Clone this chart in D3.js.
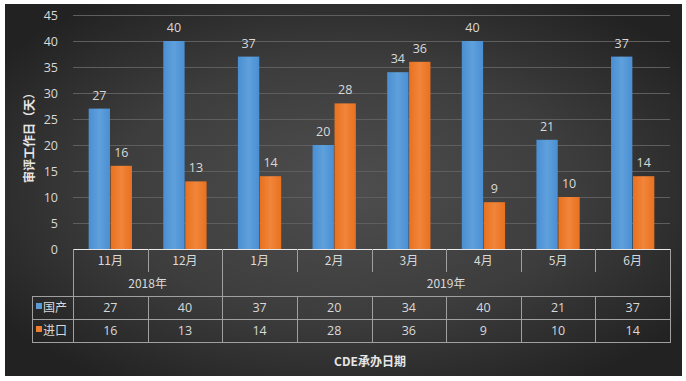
<!DOCTYPE html>
<html><head><meta charset="utf-8">
<script src="https://cdn.jsdelivr.net/npm/d3@7/dist/d3.min.js"></script>
<style>
html,body{margin:0;padding:0;background:#fff;}
svg{display:block;font-family:"Noto Sans CJK SC","Noto Sans",sans-serif;}
</style></head>
<body>
<script>
const months = ["11月","12月","1月","2月","3月","4月","5月","6月"];
const years = [{label:"2018年", from:0, to:2},{label:"2019年", from:2, to:8}];
const seriesNames = ["国产","进口"];
const domestic = [27,40,37,20,34,40,21,37];
const imported = [16,13,14,28,36,9,10,14];
const yTicks = [0,5,10,15,20,25,30,35,40,45];
const colors = ["#5b9bd5","#ed7d31"];
const xTitle = "CDE承办日期";
const yTitle = "审评工作日（天）";

(function(){
const W = 686, H = 381;
const svg = d3.select("body").append("svg").attr("width", W).attr("height", H);
const defs = svg.append("defs");
const rg = defs.append("radialGradient").attr("id","bg").attr("cx","0.5").attr("cy","0.5").attr("r","0.62");
rg.append("stop").attr("offset","0").attr("stop-color","#4e4e4e");
rg.append("stop").attr("offset","0.55").attr("stop-color","#3d3d3d");
rg.append("stop").attr("offset","1").attr("stop-color","#222222");
const bg = defs.append("linearGradient").attr("id","blueG").attr("x1",0).attr("x2",1);
bg.append("stop").attr("offset",0).attr("stop-color","#4a8fd3");
bg.append("stop").attr("offset",0.5).attr("stop-color","#5fa0dc");
bg.append("stop").attr("offset",1).attr("stop-color","#4a8fd3");
const og = defs.append("linearGradient").attr("id","orangeG").attr("x1",0).attr("x2",1);
og.append("stop").attr("offset",0).attr("stop-color","#e8711f");
og.append("stop").attr("offset",0.5).attr("stop-color","#f1853a");
og.append("stop").attr("offset",1).attr("stop-color","#e8711f");
const fills = ["url(#blueG)","url(#orangeG)"];

svg.append("rect").attr("x",5).attr("y",4).attr("width",677).attr("height",372).attr("fill","url(#bg)");

const pLeft = 73, pRight = 670, pTop = 15, pBottom = 249;
const x0 = d3.scaleBand().domain(months).range([pLeft,pRight]).paddingInner(0.42).paddingOuter(0.21);
const x1 = d3.scaleBand().domain(seriesNames).range([0,x0.bandwidth()]).paddingInner(0.03);
const y = d3.scaleLinear().domain([0,45]).range([pBottom,pTop]);
const step = x0.step();
const cellX = i => pLeft + i*step;

// gridlines
svg.append("g").selectAll("line").data(yTicks.filter(t=>t>0)).join("line")
  .attr("x1",pLeft).attr("x2",pRight).attr("y1",d=>Math.round(y(d))+0.5).attr("y2",d=>Math.round(y(d))+0.5)
  .attr("stroke","#5e5e5e").attr("stroke-width",1);

// y axis labels
const yAxis = d3.axisLeft(y).tickValues(yTicks).tickSize(0).tickPadding(0);
const ga = svg.append("g").attr("transform",`translate(58,0)`).call(yAxis);
ga.select(".domain").remove();
ga.selectAll("text").attr("fill","#d9d9d9").attr("font-size",12.5).style("font-family","'Open Sans','Noto Sans',sans-serif");

// y title
svg.append("text").attr("transform","translate(34,135) rotate(-90)").attr("text-anchor","middle")
  .attr("fill","#e6e6e6").attr("font-size",12).attr("font-weight","bold").text(yTitle);

// bars
const data = months.map((m,i)=>({m, vals:[domestic[i], imported[i]]}));
const groups = svg.append("g").selectAll("g").data(data).join("g")
  .attr("transform",d=>`translate(${x0(d.m)},0)`);
groups.selectAll("rect").data(d=>d.vals.map((v,k)=>({k,v}))).join("rect")
  .attr("x",d=>x1(seriesNames[d.k])).attr("width",x1.bandwidth())
  .attr("y",d=>y(d.v)).attr("height",d=>pBottom-y(d.v))
  .attr("fill",d=>fills[d.k]);
groups.selectAll("text").data(d=>d.vals.map((v,k)=>({k,v}))).join("text")
  .attr("x",d=>x1(seriesNames[d.k])+x1.bandwidth()/2).attr("y",d=>y(d.v)-9)
  .attr("text-anchor","middle").attr("fill","#d9d9d9").attr("font-size",12.5)
  .style("font-family","'Open Sans','Noto Sans',sans-serif").text(d=>d.v);

// table
const tbl = svg.append("g").attr("stroke","#a0a0a0").attr("stroke-width",1).attr("fill","none");
const r0 = pBottom, rMonthEnd = 272, rYear = 296, rRow1 = 319, rRow2 = 342, legL = 32;
const hl = (xa,xb,yy,c)=>tbl.append("line").attr("x1",xa).attr("x2",xb).attr("y1",yy+0.5).attr("y2",yy+0.5).attr("stroke",c||"#a0a0a0");
const vl = (xx,ya,yb)=>tbl.append("line").attr("x1",Math.round(xx)+0.5).attr("x2",Math.round(xx)+0.5).attr("y1",ya).attr("y2",yb);
hl(pLeft,pRight,r0,"#e8e8e8");
hl(legL,pRight,rYear); hl(legL,pRight,rRow1); hl(legL,pRight,rRow2);
vl(legL,rYear,rRow2+1);
vl(pLeft,r0,rRow2+1);
vl(pRight,r0,rRow2+1);
for(let i=1;i<months.length;i++){
  const isYearBoundary = years.some(yy=>yy.from===i);
  vl(cellX(i), isYearBoundary? r0 : rYear, rRow2+1);
  if(!isYearBoundary) vl(cellX(i), r0, rMonthEnd);
}
const tt = svg.append("g").attr("fill","#d9d9d9").attr("font-size",12).attr("text-anchor","middle");
months.forEach((m,i)=>tt.append("text").attr("x",cellX(i)+step/2).attr("y",265).text(m));
years.forEach(yy=>tt.append("text").attr("x",cellX(yy.from)+(yy.to-yy.from)*step/2).attr("y",288).text(yy.label));
[domestic,imported].forEach((arr,k)=>{
  const cy = k===0 ? 312 : 335;
  arr.forEach((v,i)=>tt.append("text").attr("x",cellX(i)+step/2).attr("y",cy)
    .style("font-family","'Open Sans','Noto Sans',sans-serif").attr("font-size",12.5).text(v));
  svg.append("rect").attr("x",36).attr("y",(k===0?rYear:rRow1)+7).attr("width",6).attr("height",6).attr("fill",colors[k]);
  svg.append("text").attr("x",43).attr("y",cy).attr("fill","#d9d9d9").attr("font-size",12).text(seriesNames[k]);
});

// x title
svg.append("text").attr("x",370).attr("y",366).attr("text-anchor","middle").attr("fill","#e6e6e6")
  .attr("font-size",12).attr("font-weight","bold").text(xTitle);
})();
</script>
</body></html>
